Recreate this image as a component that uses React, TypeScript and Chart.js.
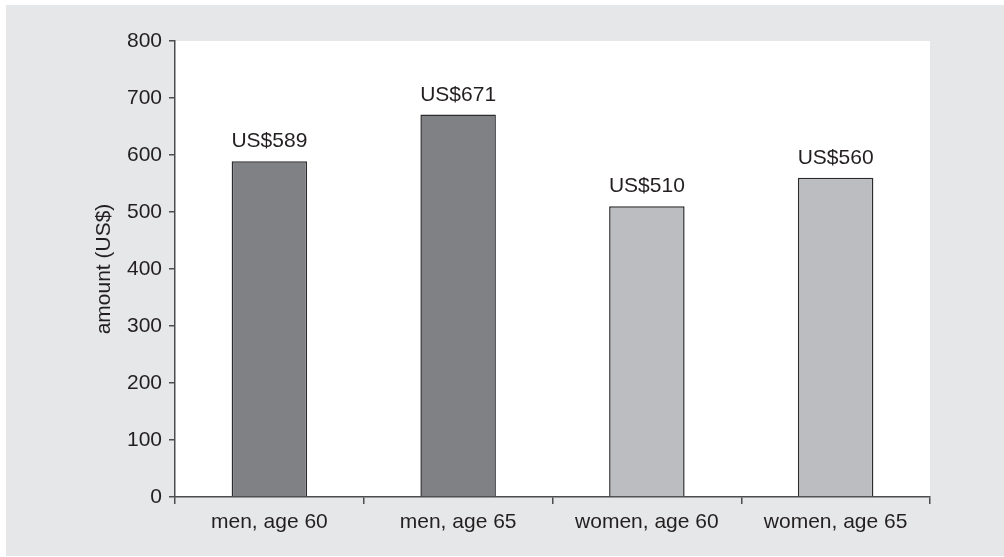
import React, { useEffect, useRef } from "react";
import { Chart, registerables } from "chart.js";

Chart.register(...registerables);

const categories = ["men, age 60", "men, age 65", "women, age 60", "women, age 65"];
const amounts = [589, 671, 510, 560];
const valueLabels = ["US$589", "US$671", "US$510", "US$560"];
const barColors = ["#808184", "#808184", "#bcbdc0", "#bcbdc0"];
const yTitle = "amount (US$)";

const FONT = "'Liberation Sans', Arial, Helvetica, sans-serif";
const FS = 21;
const TEXT = "#231f20";
const AXIS = "#4d4d4f";

const bgPlugin = {
  id: "bgPlugin",
  beforeDraw(chart: any) {
    const { ctx, width, height, chartArea } = chart;
    ctx.save();
    ctx.fillStyle = "#ffffff";
    ctx.fillRect(0, 0, width, height);
    ctx.fillStyle = "#e6e7e8";
    ctx.fillRect(6, 5, width - 6, height - 6);
    ctx.fillStyle = "#ffffff";
    ctx.fillRect(chartArea.left, chartArea.top, chartArea.right - chartArea.left, chartArea.bottom - chartArea.top);
    ctx.restore();
  },
  afterDraw(chart: any) {
    const { ctx, chartArea } = chart;
    ctx.save();
    ctx.fillStyle = TEXT;
    ctx.font = `${FS}px ${FONT}`;
    ctx.textAlign = "center";
    ctx.textBaseline = "alphabetic";
    const meta = chart.getDatasetMeta(0);
    meta.data.forEach((bar: any, i: number) => {
      ctx.fillText(valueLabels[i], bar.x, bar.y - 14);
    });
    ctx.translate(104, (chartArea.top + chartArea.bottom) / 2);
    ctx.rotate(-Math.PI / 2);
    ctx.textBaseline = "middle";
    ctx.fillText(yTitle, 0, 0);
    ctx.restore();
  },
};

export default function App() {
  const ref = useRef<HTMLCanvasElement>(null);
  useEffect(() => {
    document.body.style.margin = "0";
    const chart = new Chart(ref.current!, {
      type: "bar",
      data: {
        labels: categories,
        datasets: [
          {
            data: amounts,
            backgroundColor: barColors,
            borderColor: "#2b2b2d",
            borderWidth: 1.5,
            barPercentage: 0.4,
            categoryPercentage: 1,
          },
        ],
      },
      options: {
        animation: false,
        responsive: false,
        devicePixelRatio: 1,
        layout: { padding: { left: 0, right: 74, top: 41, bottom: 0 } },
        plugins: { legend: { display: false }, tooltip: { enabled: false } },
        scales: {
          x: {
            afterFit(scale: any) {
              scale.height = 60;
            },
            border: { display: true, color: AXIS, width: 1.5 },
            grid: { display: true, drawOnChartArea: false, drawTicks: true, tickLength: 7, color: AXIS, lineWidth: 1.5, offset: true },
            ticks: { color: TEXT, font: { family: FONT, size: FS }, padding: 6, maxRotation: 0 },
          },
          y: {
            min: 0,
            max: 800,
            afterFit(scale: any) {
              scale.width = 175;
            },
            border: { display: true, color: AXIS, width: 1.5 },
            grid: { display: true, drawOnChartArea: false, drawTicks: true, tickLength: 6, color: AXIS, lineWidth: 1.5 },
            ticks: { stepSize: 100, color: TEXT, font: { family: FONT, size: FS }, padding: 7 },
          },
        },
      },
      plugins: [bgPlugin],
    });
    return () => chart.destroy();
  }, []);
  return (
    <div style={{ position: "absolute", left: 0, top: 0, width: 1004, height: 557 }}>
      <canvas ref={ref} width={1004} height={557} style={{ display: "block" }} />
    </div>
  );
}
